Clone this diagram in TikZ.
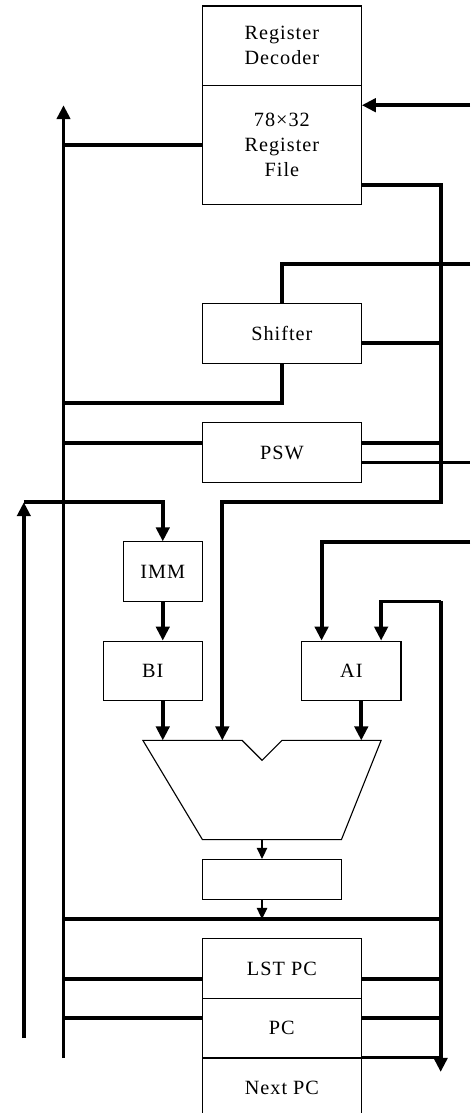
\documentclass[tikz,border=0pt]{standalone}
\usepackage{fontspec}
\setmainfont{Liberation Serif}[LetterSpace=5]
\usetikzlibrary{arrows.meta}

\begin{document}
\begin{tikzpicture}[
    x=0.5cm, y=-0.5cm,
    font=\fontsize{14.5}{17.9}\selectfont,
    block/.style={draw, line width=0.8pt, rectangle, minimum width=4cm, minimum height=1.5cm, align=center, inner sep=0pt},
    bus/.style={line width=2.8pt},
    arrow/.style={bus, -{Triangle[width=9.5pt,length=10pt]}},
    thinarrow/.style={line width=0.8pt, -{Triangle[width=7.5pt,length=8pt]}}
]
    \useasboundingbox (-0.2,-0.3) rectangle (23.48,55.77);

    % blocks
    \node[block, minimum height=2cm] (dec) at (14,2) {Register\\Decoder};
    \node[block, minimum height=3cm] (rf) at (14,7) {78×32\\Register\\File};
    \node[block] (shifter) at (14,16.5) {Shifter};
    \node[block] (psw) at (14,22.5) {PSW};
    \node[block, minimum width=2cm] (imm) at (8,28.5) {IMM};
    \node[block, minimum width=2.5cm] (bi) at (7.5,33.5) {BI};
    \node[block, minimum width=2.5cm] (ai) at (17.5,33.5) {AI};
    \node[block, minimum width=3.5cm, minimum height=1cm] (res) at (13.5,44) {};
    \node[block] (lstpc) at (14,48.5) {LST PC};
    \node[block] (pc) at (14,51.5) {PC};
    \node[block, minimum height=1.5cm] (nextpc) at (14,54.5) {Next PC};

    % ALU
    \draw[line width=0.8pt] (7,37) -- (12,37) -- (13,38) -- (14,37) -- (19,37) -- (17,42) -- (10,42) -- cycle;
    \coordinate (alu-in1) at (8,37);
    \coordinate (alu-in2) at (11,37);
    \coordinate (alu-in3) at (18,37);
    \coordinate (alu-out) at (13,42);

    % bus ends
    \coordinate (in-rf) at (23.48,5);
    \coordinate (in-sh) at (23.48,13);
    \coordinate (out-psw) at (23.48,23);
    \coordinate (in-ai) at (23.48,27);
    \coordinate (lbus-top) at (3,5);
    \coordinate (lbus-bot) at (3,53);
    \coordinate (rbus) at (22,9);
    \coordinate (rbus-mid) at (22,30);
    \coordinate (rbus-bot) at (22,53.7);
    \coordinate (lout-top) at (1,25);
    \coordinate (lout-bot) at (1,52);

    % register file
    \draw[arrow] (in-rf) -- (rf.east |- in-rf);
    \draw[arrow] (lbus-bot) -- (lbus-top);
    \draw[bus] (rf.west) -- (lbus-top |- rf.west);
    \draw[arrow] (rf.east |- rbus) -- (rbus) |- (alu-in2 |- 0,25) -- (alu-in2);

    % shifter and psw
    \draw[bus] (in-sh) -| (shifter.north);
    \draw[bus] (shifter.east |- 0,17) -- (rbus |- 0,17);
    \draw[bus] (shifter.south) |- (lbus-top |- 0,20);
    \draw[bus] (lbus-top |- 0,22) -- (psw.west |- 0,22);
    \draw[bus] (psw.east |- 0,22) -- (rbus |- 0,22);
    \draw[bus] (psw.east |- out-psw) -- (out-psw);

    % operands
    \draw[arrow] (lout-bot) -- (lout-top);
    \draw[arrow] (lout-top) -| (imm.north);
    \draw[arrow] (imm.south) -- (imm.south |- bi.north);
    \draw[arrow] (imm.south |- bi.south) -- (alu-in1);
    \draw[arrow] (in-ai) -| ([xshift=-0.75cm]ai.north);
    \draw[arrow] (rbus-mid) -| ([xshift=0.75cm]ai.north);
    \draw[arrow] (rbus-mid) -- (rbus-bot);
    \draw[arrow] (alu-in3 |- ai.south) -- (alu-in3);

    % result and pc
    \draw[thinarrow] (alu-out) -- (alu-out |- res.north);
    \draw[thinarrow] (alu-out |- res.south) -- (alu-out |- 0,46);
    \draw[bus] (lbus-top |- 0,46) -- (rbus |- 0,46);
    \draw[bus] (lbus-top |- 0,49) -- (lstpc.west |- 0,49);
    \draw[bus] (lstpc.east |- 0,49) -- (rbus |- 0,49);
    \draw[bus] (lbus-top |- 0,51) -- (pc.west |- 0,51);
    \draw[bus] (pc.east |- 0,51) -- (rbus |- 0,51);
    \draw[bus] (nextpc.north east) -- (rbus |- nextpc.north);
\end{tikzpicture}
\end{document}
